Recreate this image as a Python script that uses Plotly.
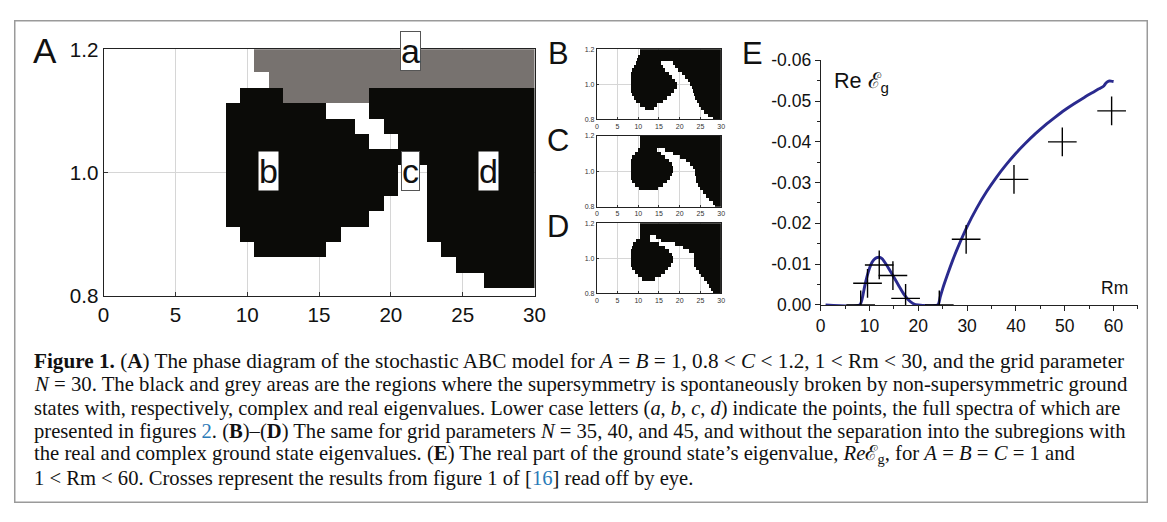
import plotly.graph_objects as go
import numpy as np

PAGE_W, PAGE_H = 1167, 522
OFF = 8                      # default body margin of the page
W, H = PAGE_W - 2 * OFF, PAGE_H - 2 * OFF
# photo = A * page + B  (measured from previous renders) -> place marks so photo matches reference
AX, BX = 0.983, 8.3
AY, BY = 0.956, 12.0
FS = 1.0 / 0.97              # font compensation
SANS = "Liberation Sans, Arial, sans-serif"
SERIF = "Liberation Serif, Times New Roman, serif"
BLACK = "#0b0b08"
GREY = "#77726f"
BLUE = "#2a2a8e"
LINK = "#2a7ab8"

# ---------------- Panel A: phase diagram, N = 30 ----------------
A_RM = [1, 2, 3, 4, 5, 6, 7, 8, 9, 10, 11, 12, 13, 14, 15,
        16, 17, 18, 19, 20, 21, 22, 23, 24, 25, 26, 27, 28, 29, 30]
A_C = [0.800, 0.825, 0.850, 0.875, 0.900, 0.925, 0.950, 0.975, 1.000,
       1.025, 1.050, 1.075, 1.100, 1.125, 1.150, 1.175, 1.200]
# black runs (first Rm, last Rm) per row of A_C
A_BLACK = [[], [(27, 30)], [(25, 30)], [(11, 15), (24, 30)], [(10, 16), (23, 30)],
           [(9, 18), (23, 30)], [(9, 19), (23, 30)], [(9, 20), (23, 30)], [(9, 20), (23, 30)],
           [(9, 20), (21, 30)], [(9, 18), (21, 30)], [(9, 17), (20, 30)], [(9, 15), (19, 30)],
           [(10, 12), (19, 30)], [], [], []]
# grey runs per row of A_C
A_GREY = [[], [], [], [], [], [], [], [], [], [], [], [], [],
          [(13, 18)], [(12, 30)], [(11, 30)], [(11, 30)]]
A_XTICKS = [0, 5, 10, 15, 20, 25, 30]
A_YTICKS = [0.8, 1.0, 1.2]
A_YTEXT = ["0.8", "1.0", "1.2"]
A_POINTS = ["a", "b", "c", "d"]
A_POINT_RM = [21.35, 11.47, 21.34, 26.8]
A_POINT_C = [1.198, 1.003, 1.003, 1.003]
A_POINT_BOX = [True, False, True, False]

# ---------------- Panels B-D: N = 35, 40, 45 (black intervals in Rm) ----------------
S_C = [0.80, 0.82, 0.84, 0.86, 0.88, 0.90, 0.92, 0.94, 0.96, 0.98, 1.00,
       1.02, 1.04, 1.06, 1.08, 1.10, 1.12, 1.14, 1.16, 1.18, 1.20]
B_RUNS = [[(28.0, 30)], [(27.0, 30)], [(26.0, 30)], [(11.8, 13.8), (25.3, 30)],
          [(10.5, 14.5), (24.8, 30)], [(9.5, 16.0), (24.2, 30)], [(9.0, 17.0), (23.8, 30)],
          [(8.5, 18.0), (23.5, 30)], [(8.3, 18.8), (23.3, 30)], [(8.2, 19.5), (23.0, 30)],
          [(8.2, 19.5), (22.5, 30)], [(8.2, 19.0), (22.0, 30)], [(8.2, 18.3), (21.3, 30)],
          [(8.3, 17.5), (20.5, 30)], [(8.6, 16.5), (19.8, 30)], [(9.0, 16.0), (19.0, 30)],
          [(9.6, 15.5), (18.5, 30)], [(9.8, 30)], [(10.0, 30)], [(10.5, 30)], [(10.5, 30)]]
C_RUNS = [[(28.5, 30)], [(28.0, 30)], [(27.3, 30)], [(26.5, 30)],
          [(25.8, 30)], [(10.3, 14.8), (25.0, 30)], [(9.2, 16.0), (24.5, 30)],
          [(8.6, 17.0), (24.0, 30)], [(8.3, 17.8), (24.0, 30)], [(8.2, 18.3), (23.8, 30)],
          [(8.2, 18.5), (23.8, 30)], [(8.2, 18.5), (23.3, 30)], [(8.2, 18.3), (22.5, 30)],
          [(8.3, 17.5), (21.5, 30)], [(8.6, 16.5), (20.0, 30)], [(9.2, 15.5), (18.5, 30)],
          [(10.0, 14.5), (16.5, 30)], [(10.4, 30)], [(10.4, 30)], [(10.4, 30)], [(10.4, 30)]]
D_RUNS = [[(28.0, 30)], [(27.6, 30)], [(27.3, 30)], [(26.8, 30)],
          [(11.0, 14.0), (26.0, 30)], [(10.0, 15.5), (25.3, 30)], [(9.2, 16.5), (24.8, 30)],
          [(8.6, 17.3), (24.0, 30)], [(8.3, 18.0), (23.5, 30)], [(8.2, 18.5), (23.5, 30)],
          [(8.2, 18.5), (23.5, 30)], [(8.2, 18.3), (23.5, 30)], [(8.2, 17.5), (22.3, 30)],
          [(8.4, 16.5), (20.7, 30)], [(8.8, 15.0), (19.1, 30)], [(9.6, 12.7), (15.5, 30)],
          [(10.4, 12.7), (14.3, 30)], [(10.4, 30)], [(10.4, 30)], [(10.4, 30)], [(10.4, 30)]]
S_XTICKS = [0, 5, 10, 15, 20, 25, 30]

# ---------------- Panel E: Re of ground state eigenvalue ----------------
E_RM = [1, 8, 8.5, 9, 9.5, 10, 10.5, 11, 11.5, 12, 12.5, 13, 13.5, 14, 14.5, 15, 16, 17,
        18, 19, 20, 24, 24.5, 25, 26, 27, 28, 30, 32, 34, 36, 38, 40, 42, 44, 46, 48,
        50, 52, 54, 56, 57, 58, 58.5, 59, 59.5, 60]
E_RE = [0, 0, -0.0015, -0.0045, -0.0070, -0.0090, -0.0104, -0.0112, -0.0116, -0.0117,
        -0.0114, -0.0107, -0.0098, -0.0088, -0.0078, -0.0068, -0.0047, -0.0027, -0.0012,
        -0.0003, 0, 0, -0.0020, -0.0040, -0.0075, -0.0108, -0.0138, -0.0192, -0.0238,
        -0.0278, -0.0313, -0.0344, -0.0372, -0.0397, -0.0420, -0.0441, -0.0460, -0.0478,
        -0.0494, -0.0509, -0.0523, -0.0530, -0.0537, -0.0545, -0.0549, -0.0549, -0.0548]
E_CROSS_RM = [8.2, 9.6, 12.0, 14.8, 17.4, 24.3, 29.8, 39.6, 49.5, 59.6]
E_CROSS_RE = [0.0, -0.0053, -0.0098, -0.0072, -0.0016, 0.0, -0.0161, -0.0308, -0.0400, -0.0476]
E_XTICKS = [0, 10, 20, 30, 40, 50, 60]
E_YTICKS = [0.0, -0.01, -0.02, -0.03, -0.04, -0.05, -0.06]
E_YTEXT = ["0.00", "-0.01", "-0.02", "-0.03", "-0.04", "-0.05", "-0.06"]

CAPTION = [
    "<b>Figure 1.</b> (<b>A</b>) The phase diagram of the stochastic ABC model for <i>A</i> = <i>B</i> = 1, 0.8 &lt; <i>C</i> &lt; 1.2, 1 &lt; Rm &lt; 30, and the grid parameter",
    "<i>N</i> = 30. The black and grey areas are the regions where the supersymmetry is spontaneously broken by non-supersymmetric ground",
    "states with, respectively, complex and real eigenvalues. Lower case letters (<i>a</i>, <i>b</i>, <i>c</i>, <i>d</i>) indicate the points, the full spectra of which are",
    "presented in figures <span style='color:%s'>2</span>. (<b>B</b>)–(<b>D</b>) The same for grid parameters <i>N</i> = 35, 40, and 45, and without the separation into the subregions with" % LINK,
    "the real and complex ground state eigenvalues. (<b>E</b>) The real part of the ground state’s eigenvalue, <i>Re</i>ℰ<sub>g</sub>, for <i>A</i> = <i>B</i> = <i>C</i> = 1 and",
    "1 &lt; Rm &lt; 60. Crosses represent the results from figure 1 of [<span style='color:%s'>16</span>] read off by eye." % LINK,
]
CAPTION_Y = [361.5, 385, 408.5, 431.5, 455, 478.5]
CAPTION_SIZE = [21.2, 20.75, 20.4, 20.6, 20.7, 20.6]   # per-line size imitates the justified block


def px(x):
    """reference pixel x -> paper fraction"""
    page = (x - BX) / AX
    return (page - OFF) / W


def py(y):
    """reference pixel y -> paper fraction"""
    page = (y - BY) / AY
    return 1 - (page - OFF) / H


def fs(s):
    return round(s * FS, 1)


fig = go.Figure()

# ---- Panel A heatmap ----
zA = []
for i, c in enumerate(A_C):
    row = []
    for rm in A_RM:
        v = None
        for a, b in A_BLACK[i]:
            if a <= rm <= b:
                v = 1
        for a, b in A_GREY[i]:
            if a <= rm <= b:
                v = 2
        row.append(v)
    zA.append(row)

cs = [[0, BLACK], [0.5, BLACK], [0.5, GREY], [1, GREY]]
fig.add_trace(go.Heatmap(x=A_RM, y=A_C, z=zA, zmin=1, zmax=2, colorscale=cs,
                         showscale=False, hoverinfo="skip", xaxis="x", yaxis="y"))

# ---- Panels B-D heatmaps ----
XS = np.arange(0.125, 30.0, 0.25)
for k, runs in enumerate([B_RUNS, C_RUNS, D_RUNS]):
    z = []
    for i, c in enumerate(S_C):
        row = []
        for xc in XS:
            v = None
            for a, b in runs[i]:
                if a <= xc <= b:
                    v = 1
            row.append(v)
        z.append(row)
    n = k + 2
    fig.add_trace(go.Heatmap(x=XS, y=S_C, z=z, zmin=1, zmax=2, colorscale=cs,
                             showscale=False, hoverinfo="skip",
                             xaxis="x%d" % n, yaxis="y%d" % n))

# ---- Panel E ----
fig.add_trace(go.Scatter(x=E_RM, y=E_RE, mode="lines",
                         line=dict(color=BLUE, width=2.9, shape="spline", smoothing=0.6),
                         xaxis="x5", yaxis="y5", hoverinfo="skip"))
fig.add_trace(go.Scatter(x=E_CROSS_RM, y=E_CROSS_RE, mode="markers",
                         marker=dict(symbol="cross-thin", size=20.5, line=dict(color="black", width=1.4)),
                         xaxis="x5", yaxis="y5", hoverinfo="skip"))

axis_common = dict(showline=True, linecolor="#222", linewidth=1, mirror=True,
                   showgrid=True, gridcolor="#d6d6d6", gridwidth=1, zeroline=False,
                   ticks="inside", tickcolor="#333")

layout = dict(
    width=W, height=H, margin=dict(l=0, r=0, t=0, b=0), autosize=False,
    paper_bgcolor="white", plot_bgcolor="white", showlegend=False,
    xaxis=dict(axis_common, domain=[px(105.5), px(535.5)], range=[0, 30], anchor="y",
               tickvals=A_XTICKS, ticklen=4, tickfont=dict(family=SANS, size=fs(20), color="#111")),
    yaxis=dict(axis_common, domain=[py(296), py(49)], range=[0.8, 1.2], anchor="x",
               tickvals=A_YTICKS, ticktext=A_YTEXT, ticklen=4,
               tickfont=dict(family=SANS, size=fs(20), color="#111")),
)
small_y = [(119, 49), (206.7, 135.7), (293.3, 223.3)]
for k, (yb, yt) in enumerate(small_y):
    n = k + 2
    layout["xaxis%d" % n] = dict(axis_common, domain=[px(597.7), px(721.7)], range=[0, 30],
                                 anchor="y%d" % n, tickvals=S_XTICKS, ticklen=2,
                                 tickfont=dict(family=SANS, size=7, color="#333"))
    layout["yaxis%d" % n] = dict(axis_common, domain=[py(yb), py(yt)], range=[0.8, 1.2],
                                 anchor="x%d" % n, tickvals=A_YTICKS, ticktext=A_YTEXT, ticklen=2,
                                 tickfont=dict(family=SANS, size=7, color="#333"))
layout["xaxis5"] = dict(domain=[px(821), px(1137.6)], range=[0, 65], anchor="y5",
                        showline=True, linecolor="#222", linewidth=1, showgrid=False, zeroline=False,
                        tickvals=E_XTICKS, ticks="outside", ticklen=5, tickcolor="#222",
                        minor=dict(tickmode="linear", tick0=5, dtick=10, ticks="outside", ticklen=3, tickcolor="#222"),
                        tickfont=dict(family=SANS, size=fs(17), color="#111"))
layout["yaxis5"] = dict(domain=[py(305), py(60)], range=[0, -0.06], anchor="x5",
                        showline=True, linecolor="#222", linewidth=1, showgrid=False, zeroline=False,
                        tickvals=E_YTICKS, ticktext=E_YTEXT, ticks="outside", ticklen=5, tickcolor="#222",
                        minor=dict(tickmode="linear", tick0=0, dtick=0.005, ticks="outside", ticklen=3, tickcolor="#222"),
                        tickfont=dict(family=SANS, size=fs(17), color="#111"))
fig.update_layout(**layout)

ann = []
# panel letters
for t, x, y, s in [("A", 47, 50, 34), ("B", 559, 53, 30), ("C", 559, 140, 30),
                   ("D", 559, 226, 30), ("E", 753, 53, 30)]:
    ann.append(dict(text=t, x=px(x), y=py(y), xref="paper", yref="paper", showarrow=False,
                    xanchor="center", yanchor="middle", font=dict(family=SANS, size=fs(s), color="#111")))
# point letters in panel A
for t, x, y, boxed in zip(A_POINTS, A_POINT_RM, A_POINT_C, A_POINT_BOX):
    ann.append(dict(text=t, x=x, y=y, xref="x", yref="y", showarrow=False,
                    xanchor="center", yanchor="middle", font=dict(family=SANS, size=fs(33), color="#111"),
                    bgcolor="white", bordercolor="#555" if boxed else "rgba(0,0,0,0)",
                    borderwidth=1, borderpad=0))
# labels in panel E
ann.append(dict(text="Re ℰ<sub>g</sub>", x=2.3, y=-0.0585, xref="x5", yref="y5", showarrow=False,
                xanchor="left", yanchor="top", font=dict(family=SANS, size=fs(21), color="#111")))
ann.append(dict(text="Rm", x=60.2, y=-0.0042, xref="x5", yref="y5", showarrow=False,
                xanchor="center", yanchor="middle", font=dict(family=SANS, size=fs(17), color="#111")))
# caption, one annotation per line
for line, yy, sz in zip(CAPTION, CAPTION_Y, CAPTION_SIZE):
    ann.append(dict(text=line, x=px(34), y=py(yy), xref="paper", yref="paper",
                    showarrow=False, xanchor="left", yanchor="middle", align="left",
                    font=dict(family=SERIF, size=sz, color="#111")))
fig.update_layout(annotations=ann)

# outer frame of the figure (kept inside the drawable paper)
fig.add_shape(type="rect", xref="paper", yref="paper",
              x0=0.75 / W, x1=1 - 0.75 / W, y0=0.75 / H, y1=1 - 0.75 / H,
              line=dict(color="#9a9a9a", width=1.5), fillcolor="rgba(0,0,0,0)", layer="below")

fig.write_html("out.html", config={"displayModeBar": False})
